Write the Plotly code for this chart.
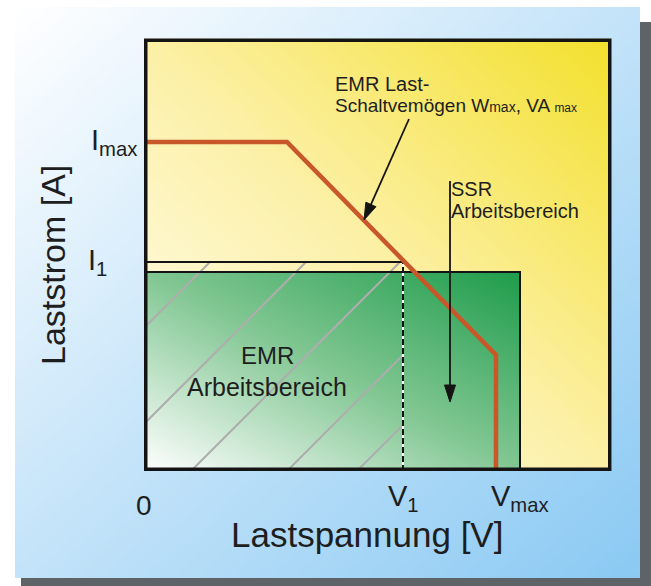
import numpy as np
import plotly.graph_objects as go

W, H = 651, 586

# ---- diagram values (arbitrary units) ----
V_KNEE = 14.3      # end of the constant-current part of the EMR curve
V1 = 25.9
VMAX = 35.2
V_SSR = 37.6       # right edge of SSR working area
I_MAX = 32.9
I1 = 20.9
I_AT_VMAX = 11.6
I_SSR = 19.9       # top edge of SSR working area
X_MAX = 46.75      # plot frame extents
Y_MAX = 43.25

emr_v = [0, V_KNEE, VMAX, VMAX]
emr_i = [I_MAX, I_MAX, I_AT_VMAX, 0]

hatch_offsets = [-14.3, -4.7, 4.7, 14.3, 21.3]   # V - I of each hatch line

x_tick_text = ["0", "V<sub>1</sub>", "V<sub>max</sub>"]
y_tick_text = ["I<sub>max</sub>", "I<sub>1</sub>"]

# arrows: (tail_v, tail_i, tip_v, tip_i)
arrows = [(26.5, 35.2, 22.0, 25.1), (30.6, 29.0, 30.6, 6.9)]

FONT = "Liberation Sans, Arial, sans-serif"
TXT = "#1e1e1e"

fig = go.Figure()


def grad_heatmap(x0, x1, y0, y1, cs, xa, ya, n=60):
    xe = np.linspace(x0, x1, n + 1)
    ye = np.linspace(y0, y1, n + 1)
    xc = (xe[:-1] + xe[1:]) / 2
    yc = (ye[:-1] + ye[1:]) / 2
    gx = (xc - x0) / (x1 - x0)
    gy = (yc - y0) / (y1 - y0)
    z = gx[None, :] + gy[:, None]
    return go.Heatmap(x=xe, y=ye, z=z, zmin=0, zmax=2, colorscale=cs,
                      showscale=False, hoverinfo="skip", zsmooth="best",
                      xaxis=xa, yaxis=ya)


# blue outer frame (pixel axes, y reversed)
fig.add_trace(grad_heatmap(15, 640, 7, 578,
                           [[0, "#ffffff"], [0.5, "#c3e3f9"], [1, "#8ac9f3"]],
                           "x", "y"))

# yellow plot background
fig.add_trace(grad_heatmap(0, X_MAX, 0, Y_MAX,
                           [[0, "#fffef4"], [0.5, "#fcf0a6"], [1, "#f3e02c"]],
                           "x2", "y2"))

# green SSR working area
fig.add_trace(grad_heatmap(0, V_SSR, 0, I_SSR,
                           [[0, "#ffffff"], [0.5, "#82c793"], [1, "#1e9c4b"]],
                           "x2", "y2"))

# hatch lines inside EMR working area (0..V1, 0..I1)
hx, hy = [], []
for d in hatch_offsets:
    xs = max(0.0, d)
    xe_ = min(V1, I1 + d)
    if xe_ <= xs:
        continue
    hx += [xs, xe_, None]
    hy += [xs - d, xe_ - d, None]
fig.add_trace(go.Scatter(x=hx, y=hy, mode="lines",
                         line=dict(color="#adadad", width=2),
                         hoverinfo="skip", xaxis="x2", yaxis="y2"))

# SSR area outline
fig.add_trace(go.Scatter(x=[0, V_SSR, V_SSR], y=[I_SSR, I_SSR, 0], mode="lines",
                         line=dict(color="#141414", width=2),
                         hoverinfo="skip", xaxis="x2", yaxis="y2"))

# EMR rectangle top edge and dashed right edge
fig.add_trace(go.Scatter(x=[0, V1], y=[I1, I1], mode="lines",
                         line=dict(color="#141414", width=2),
                         hoverinfo="skip", xaxis="x2", yaxis="y2"))
fig.add_trace(go.Scatter(x=[V1, V1], y=[0, I1], mode="lines",
                         line=dict(color="#ffffff", width=2),
                         hoverinfo="skip", xaxis="x2", yaxis="y2"))
fig.add_trace(go.Scatter(x=[V1, V1], y=[0, I1], mode="lines",
                         line=dict(color="#141414", width=2, dash="6px,3px"),
                         hoverinfo="skip", xaxis="x2", yaxis="y2"))

# EMR load switching capacity curve
fig.add_trace(go.Scatter(x=emr_v, y=emr_i, mode="lines",
                         line=dict(color="#c8572a", width=4.5),
                         hoverinfo="skip", xaxis="x2", yaxis="y2"))

# arrows (line + filled head)
HEAD_L, HEAD_W = 1.7, 0.55
for tv, ti, pv, pi in arrows:
    dx, dy = pv - tv, pi - ti
    L = (dx * dx + dy * dy) ** 0.5
    ux, uy = dx / L, dy / L
    bx, by = pv - ux * HEAD_L, pi - uy * HEAD_L
    fig.add_trace(go.Scatter(x=[tv, bx + ux * 0.2], y=[ti, by + uy * 0.2], mode="lines",
                             line=dict(color="#141414", width=1.8),
                             hoverinfo="skip", xaxis="x2", yaxis="y2"))
    px_, py_ = -uy, ux
    fig.add_trace(go.Scatter(
        x=[pv, bx + px_ * HEAD_W, bx - px_ * HEAD_W, pv],
        y=[pi, by + py_ * HEAD_W, by - py_ * HEAD_W, pi],
        mode="lines", fill="toself", fillcolor="#141414",
        line=dict(color="#141414", width=1),
        hoverinfo="skip", xaxis="x2", yaxis="y2"))

# shadow and frame border
shapes = [
    dict(type="rect", xref="x", yref="y", x0=21, x1=660, y0=22, y1=600,
         fillcolor="#5e6368", line=dict(width=0), layer="below"),
    dict(type="rect", xref="x2", yref="y2", x0=0, x1=X_MAX, y0=0, y1=Y_MAX,
         line=dict(color="#141414", width=7), fillcolor="rgba(0,0,0,0)", layer="above"),
]


def ann(text, x, y, size, xref="x", yref="y", xanchor="center", yanchor="middle", angle=0):
    return dict(text=text, x=x, y=y, xref=xref, yref=yref, xanchor=xanchor,
                yanchor=yanchor, showarrow=False, textangle=angle,
                borderpad=0, borderwidth=0,
                font=dict(family=FONT, size=size, color=TXT))


annotations = [
    ann("Laststrom [A]", 53, 265, 34, angle=-90),
    ann("Lastspannung [V]", 367, 534, 35),
    ann(x_tick_text[0], 0, 505, 28, xref="x2"),
    ann(x_tick_text[1], V1, 498, 29, xref="x2"),
    ann(x_tick_text[2], VMAX - 0.5, 498, 29, xref="x2", xanchor="left"),
    ann(y_tick_text[0], 91, I_MAX, 29, yref="y2", xanchor="left"),
    ann(y_tick_text[1], 88, I1, 29, yref="y2", xanchor="left"),
    ann("EMR Last-", 335, 84, 20, xanchor="left"),
    ann("Schaltvemögen W<span style='font-size:14px'>max</span>, VA <span style='font-size:12px'>max</span>",
        335, 105, 19, xanchor="left"),
    ann("SSR", 451, 189, 20, xanchor="left"),
    ann("Arbeitsbereich", 451, 211, 20, xanchor="left"),
    ann("EMR", 267, 355, 24),
    ann("Arbeitsbereich", 267, 387, 25),
]

fig.update_layout(
    width=W, height=H,
    margin=dict(l=0, r=0, t=0, b=0),
    paper_bgcolor="#ffffff",
    plot_bgcolor="rgba(0,0,0,0)",
    showlegend=False,
    xaxis=dict(domain=[0, 1], range=[0, W], visible=False, fixedrange=True),
    yaxis=dict(domain=[0, 1], range=[H, 0], visible=False, fixedrange=True),
    xaxis2=dict(domain=[144 / W, 611.5 / W], range=[0, X_MAX], visible=False,
                anchor="y2", fixedrange=True),
    yaxis2=dict(domain=[1 - 471 / H, 1 - 38.5 / H], range=[0, Y_MAX], visible=False,
                anchor="x2", fixedrange=True),
    shapes=shapes,
    annotations=annotations,
)

fig.write_html("out.html",
               config={"displayModeBar": False, "staticPlot": True},
               post_script="document.body.style.margin='0px';"
                           "document.body.style.overflow='hidden';")
